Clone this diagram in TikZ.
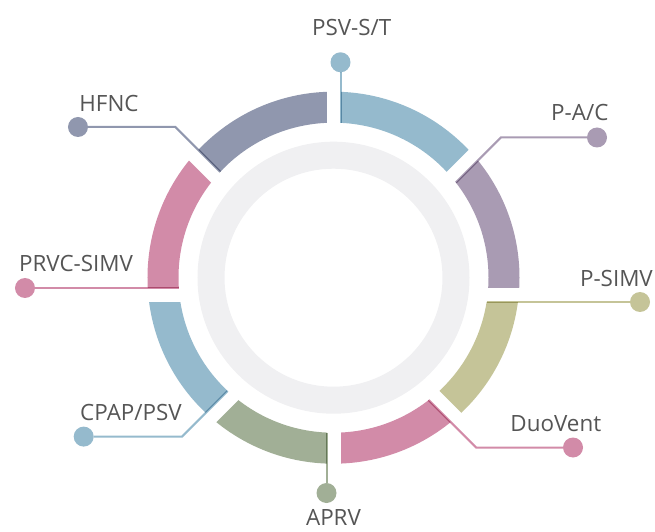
\documentclass[tikz,border=0pt]{standalone}
\usepackage{fontspec}
\setmainfont{Open Sans}
\usepackage{xcolor}
\definecolor{ventBlue}{RGB}{149,186,205}
\definecolor{ventLilac}{RGB}{169,155,179}
\definecolor{ventOlive}{RGB}{197,196,152}
\definecolor{ventPink}{RGB}{210,139,168}
\definecolor{ventSage}{RGB}{161,175,150}
\definecolor{ventSlate}{RGB}{144,151,174}
\definecolor{ringGray}{RGB}{240,240,242}
\definecolor{labelGray}{RGB}{85,85,85}

\tikzset{
  modeDot/.style={circle, minimum size=20pt, inner sep=0pt},
  modeLink/.style={line width=2pt, blend mode=multiply},
  modeLabel/.style={anchor=base, text=labelGray, inner sep=0pt, font=\fontsize{22.4}{26}\selectfont},
}

\begin{document}
\begin{tikzpicture}[x=1pt, y=1pt]
\useasboundingbox (-333.5,-237) rectangle (321.5,295);
\coordinate (hub) at (0,17.3);
% coloured ring, one slice per mode
\foreach \a/\col in {90/ventBlue, 45/ventLilac, 0/ventOlive, -45/ventPink, -90/ventSage, -135/ventBlue, 180/ventPink, 135/ventSlate}{
  \begin{scope}
    \clip (0,0) -- (\a:420) -- ({\a-22.5}:420) -- ({\a-45}:420) -- cycle;
    \fill[\col, even odd rule] (hub) circle (186) (hub) circle (155);
  \end{scope}
}
% gaps between the slices
\foreach \a in {0,45,90,135}
  \draw[white, line width=14pt] (\a:220) -- ({\a+180}:220);
% inner grey ring
\fill[ringGray, even odd rule] (hub) circle (136) (hub) circle (109);

% PSV-S/T
\coordinate (psvIn) at (7,172.1);
\node[modeDot, fill=ventBlue] (psvDot) at (7,232.7) {};
\draw[modeLink, ventBlue] (psvIn) -- (psvDot);
\node[modeLabel] (psvText) at (18.2,259) {PSV-S/T};

% P-A/C
\coordinate (pacIn) at (122.35,112.45);
\coordinate (pacBend) at (167.4,157.5);
\node[modeDot, fill=ventLilac] (pacDot) at (263.5,157.5) {};
\draw[modeLink, ventLilac] (pacIn) -- (pacBend) -- (pacDot);
\node[modeLabel] (pacText) at (246.3,174) {P-A/C};

% P-SIMV
\coordinate (psimvIn) at (153.1,-7);
\node[modeDot, fill=ventOlive] (psimvDot) at (306.5,-7) {};
\draw[modeLink, ventOlive] (psimvIn) -- (psimvDot);
\node[modeLabel, anchor=base east] (psimvText) at (319.5,8.3) {P-SIMV};

% DuoVent
\coordinate (duoIn) at (95.15,-105.05);
\coordinate (duoBend) at (142.6,-152.5);
\node[modeDot, fill=ventPink] (duoDot) at (239.5,-152.5) {};
\draw[modeLink, ventPink] (duoIn) -- (duoBend) -- (duoDot);
\node[modeLabel] (duoText) at (222.3,-136.6) {DuoVent};

% APRV
\coordinate (aprvIn) at (-7,-137.5);
\node[modeDot, fill=ventSage] (aprvDot) at (-7,-198) {};
\draw[modeLink, ventSage] (aprvIn) -- (aprvDot);
\node[modeLabel] (aprvText) at (0,-230) {APRV};

% CPAP/PSV
\coordinate (cpapIn) at (-105.85,-95.95);
\coordinate (cpapBend) at (-151.5,-141.6);
\node[modeDot, fill=ventBlue] (cpapDot) at (-249.8,-141.6) {};
\draw[modeLink, ventBlue] (cpapIn) -- (cpapBend) -- (cpapDot);
\node[modeLabel] (cpapText) at (-202.5,-125.8) {CPAP/PSV};

% PRVC-SIMV
\coordinate (prvcIn) at (-154.66,7);
\node[modeDot, fill=ventPink] (prvcDot) at (-308.5,7) {};
\draw[modeLink, ventPink] (prvcIn) -- (prvcDot);
\node[modeLabel] (prvcText) at (-257.5,23.3) {PRVC-SIMV};

% HFNC
\coordinate (hfncIn) at (-113.25,123.15);
\coordinate (hfncBend) at (-158.1,168);
\node[modeDot, fill=ventSlate] (hfncDot) at (-255.5,168) {};
\draw[modeLink, ventSlate] (hfncIn) -- (hfncBend) -- (hfncDot);
\node[modeLabel] (hfncText) at (-224.5,183.7) {HFNC};
\end{tikzpicture}
\end{document}
